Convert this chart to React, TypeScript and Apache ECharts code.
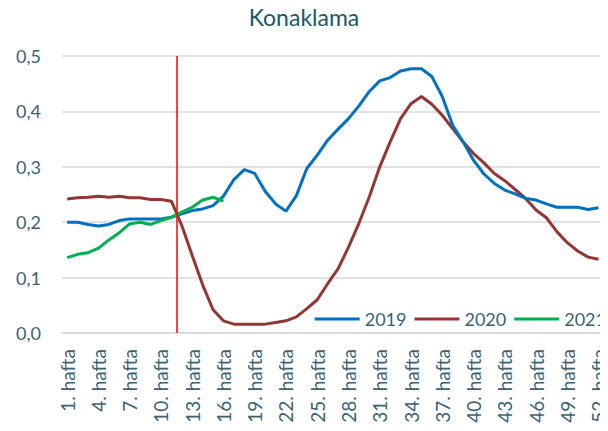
import React, { useEffect, useRef } from "react";
import * as echarts from "echarts";

const weeks: string[] = Array.from({ length: 52 }, (_, i) => `${i + 1}. hafta`);

const s2019: number[] = [
  0.200, 0.200, 0.196, 0.193, 0.196, 0.203, 0.206, 0.206, 0.206, 0.206,
  0.209, 0.215, 0.221, 0.224, 0.230, 0.247, 0.277, 0.295, 0.288, 0.256,
  0.233, 0.220, 0.248, 0.297, 0.321, 0.348, 0.368, 0.387, 0.410, 0.436,
  0.455, 0.461, 0.473, 0.477, 0.477, 0.463, 0.427, 0.375, 0.345, 0.312,
  0.287, 0.270, 0.258, 0.251, 0.243, 0.240, 0.233, 0.227, 0.227, 0.227,
  0.223, 0.226,
];

const s2020: number[] = [
  0.242, 0.244, 0.245, 0.247, 0.245, 0.247, 0.244, 0.244, 0.241, 0.241,
  0.238, 0.194, 0.140, 0.087, 0.042, 0.022, 0.016, 0.016, 0.016, 0.016,
  0.019, 0.022, 0.029, 0.044, 0.060, 0.089, 0.116, 0.155, 0.198, 0.246,
  0.300, 0.345, 0.387, 0.414, 0.427, 0.413, 0.393, 0.369, 0.345, 0.324,
  0.307, 0.288, 0.275, 0.259, 0.243, 0.222, 0.208, 0.183, 0.163, 0.148,
  0.137, 0.133,
];

const s2021: number[] = [
  0.136, 0.142, 0.145, 0.153, 0.168, 0.181, 0.197, 0.200, 0.196, 0.203,
  0.209, 0.218, 0.227, 0.240, 0.245, 0.238,
];

const yTicks = [0, 0.1, 0.2, 0.3, 0.4, 0.5];
const markerWeek = 11.5;

const FONT = "Lato, 'Noto Sans', sans-serif";
const TEXT = "#3d6272";

export default function App() {
  const ref = useRef<HTMLDivElement>(null);
  useEffect(() => {
    if (!ref.current) return;
    const chart = echarts.init(ref.current, undefined, { renderer: "svg" });
    chart.setOption({
      animation: false,
      textStyle: { fontFamily: FONT },
      title: {
        text: "Konaklama",
        left: "center",
        top: 0,
        textStyle: { fontFamily: FONT, fontSize: 23, fontWeight: "normal", color: "#215868" },
      },
      legend: {
        data: ["2019", "2020", "2021"],
        right: 2,
        top: 310,
        padding: 0,
        icon: "rect",
        itemWidth: 45,
        itemHeight: 3,
        itemGap: 8,
        textStyle: { fontFamily: FONT, fontSize: 18, color: TEXT },
      },
      grid: { left: 62, right: 1.5, top: 56, bottom: 98, containLabel: false },
      xAxis: [
        {
          type: "category",
          data: weeks,
          boundaryGap: true,
          axisLine: { lineStyle: { color: "#d9d9d9", width: 1.5 } },
          axisTick: { show: false },
          axisLabel: {
            interval: 2,
            rotate: 90,
            margin: 16,
            fontFamily: FONT,
            fontSize: 19,
            color: TEXT,
          },
        },
        {
          type: "value",
          min: 0.5,
          max: 52.5,
          show: false,
        },
      ],
      yAxis: {
        type: "value",
        min: 0,
        max: 0.5,
        interval: 0.1,
        axisLine: { show: false },
        axisTick: { show: false },
        splitLine: { lineStyle: { color: "#d9d9d9", width: 1.5 } },
        axisLabel: {
          margin: 21,
          fontFamily: FONT,
          fontSize: 18,
          color: TEXT,
          formatter: (v: number) => {
            const t = yTicks.find((x) => Math.abs(x - v) < 1e-9);
            return (t !== undefined ? t : v).toFixed(1).replace(".", ",");
          },
        },
      },
      series: [
        {
          name: "2019",
          type: "line",
          data: s2019,
          symbol: "none",
          lineStyle: { color: "#0070c0", width: 3 },
          itemStyle: { color: "#0070c0" },
          z: 3,
        },
        {
          name: "2020",
          type: "line",
          data: s2020,
          symbol: "none",
          lineStyle: { color: "#943634", width: 3 },
          itemStyle: { color: "#943634" },
          z: 2,
        },
        {
          name: "2021",
          type: "line",
          data: s2021,
          symbol: "none",
          lineStyle: { color: "#00b050", width: 3 },
          itemStyle: { color: "#00b050" },
          z: 4,
        },
        {
          name: "marker",
          type: "line",
          xAxisIndex: 1,
          data: [],
          symbol: "none",
          markLine: {
            silent: true,
            symbol: "none",
            label: { show: false },
            lineStyle: { color: "#ff0000", width: 1.5, type: "solid" },
            data: [[{ coord: [markerWeek, 0] }, { coord: [markerWeek, 0.5] }]],
          },
          z: 1,
        },
      ],
    });
    return () => chart.dispose();
  }, []);
  return <div ref={ref} style={{ width: 608, height: 431, margin: -8 }} />;
}
